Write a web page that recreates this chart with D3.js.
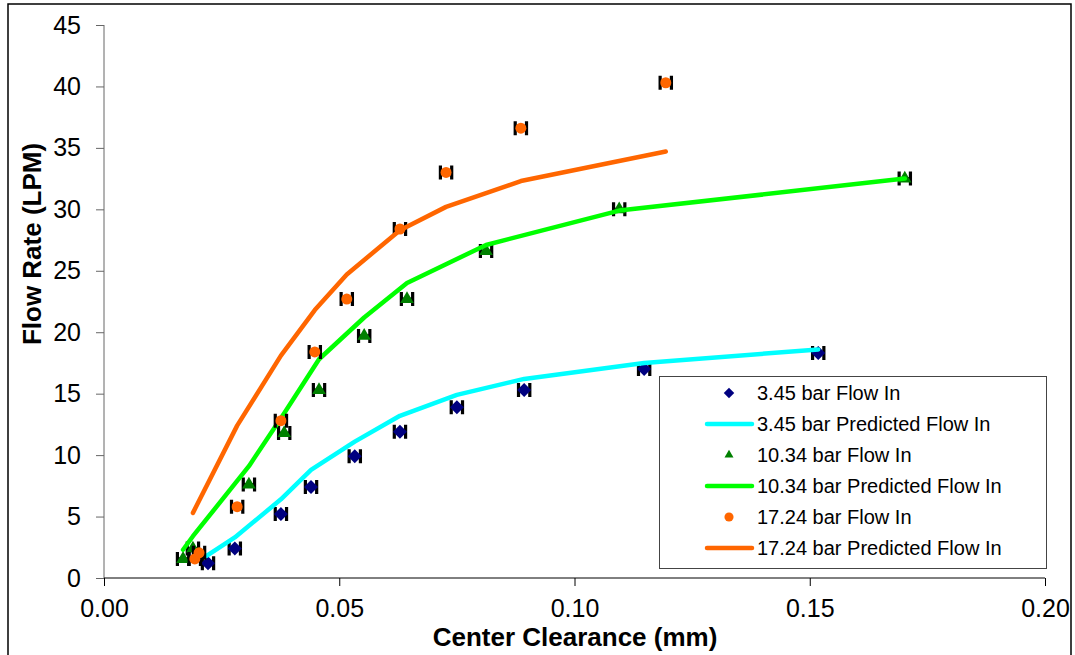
<!DOCTYPE html>
<html><head><meta charset="utf-8">
<script src="https://cdn.jsdelivr.net/npm/d3@7"></script>
<style>body{margin:0;background:#fff;} text{font-family:"Liberation Sans",Arial,sans-serif;}</style>
</head><body>
<svg id="c" width="1075" height="655"></svg>
<script>
// ---- data ----
const xTicks = [0.00, 0.05, 0.10, 0.15, 0.20];
const yTicks = [0, 5, 10, 15, 20, 25, 30, 35, 40, 45];

const obs345X = [0.0221, 0.0278, 0.0376, 0.0440, 0.0533, 0.0629, 0.0750, 0.0893, 0.1148, 0.1518];
const obs345Y = [1.2, 2.4, 5.2, 7.4, 9.9, 11.9, 13.9, 15.3, 17.0, 18.3];
const pred345X = [0.0218, 0.0278, 0.0376, 0.0440, 0.0533, 0.0629, 0.0750, 0.0893, 0.1148, 0.1518];
const pred345Y = [1.8, 3.3, 6.4, 8.8, 11.1, 13.2, 14.9, 16.2, 17.5, 18.6];

const obs1034X = [0.0168, 0.0189, 0.0308, 0.0383, 0.0457, 0.0553, 0.0644, 0.0812, 0.1095, 0.1702];
const obs1034Y = [1.55, 2.4, 7.6, 11.8, 15.3, 19.7, 22.7, 26.6, 30.0, 32.5];
const pred1034X = [0.0168, 0.0189, 0.0308, 0.0383, 0.0457, 0.0553, 0.0644, 0.0812, 0.1095, 0.1702];
const pred1034Y = [2.3, 3.4, 9.1, 13.4, 17.8, 21.2, 24.0, 27.1, 29.9, 32.5];

const obs1724X = [0.0193, 0.0202, 0.0283, 0.0376, 0.0448, 0.0516, 0.0629, 0.0727, 0.0886, 0.1194];
const obs1724Y = [1.55, 2.05, 5.8, 12.8, 18.4, 22.7, 28.4, 33.0, 36.6, 40.3];
const pred1724X = [0.0189, 0.0283, 0.0376, 0.0448, 0.0516, 0.0629, 0.0727, 0.0886, 0.1194];
const pred1724Y = [5.3, 12.4, 18.1, 21.8, 24.7, 28.3, 30.2, 32.3, 34.7];

const xErr = 0.0012;
const legendLabels = ["3.45 bar Flow In", "3.45 bar Predicted Flow In", "10.34 bar Flow In",
  "10.34 bar Predicted Flow In", "17.24 bar Flow In", "17.24 bar Predicted Flow In"];

// ---- chart ----
const svg = d3.select("#c");
const x = d3.scaleLinear().domain([0, 0.2]).range([104, 1045]);
const y = d3.scaleLinear().domain([0, 45]).range([578, 25]);

// outer frame
svg.append("path").attr("d", "M8,660 L8,4 L1071,4 L1071,660").attr("fill", "none").attr("stroke", "#000").attr("stroke-width", 1.5);

// axes
const yAxis = svg.append("g").attr("transform", "translate(104,0)")
  .call(d3.axisLeft(y).tickValues(yTicks).tickSize(8).tickPadding(15).tickFormat(d3.format("d")));
yAxis.select(".domain").attr("stroke", "#666").attr("d", "M0," + y(45) + "V" + y(0));
yAxis.selectAll(".tick line").attr("stroke", "#666");
yAxis.selectAll("text").attr("font-size", 25).attr("fill", "#000").attr("font-family", "Liberation Sans");

const xAxis = svg.append("g").attr("transform", "translate(0,578)")
  .call(d3.axisBottom(x).tickValues(xTicks).tickSize(8).tickPadding(13).tickFormat(d3.format(".2f")));
xAxis.select(".domain").attr("stroke", "#000").attr("d", "M" + x(0) + ",0H" + x(0.2));
xAxis.selectAll(".tick line").attr("stroke", "#000");
xAxis.selectAll("text").attr("font-size", 25).attr("fill", "#000").attr("font-family", "Liberation Sans");

svg.append("text").attr("x", 575).attr("y", 646).attr("text-anchor", "middle")
  .attr("font-size", 26).attr("font-weight", "bold").text("Center Clearance (mm)");
svg.append("text").attr("transform", "translate(41,244) rotate(-90)").attr("text-anchor", "middle")
  .attr("font-size", 26).attr("font-weight", "bold").text("Flow Rate (LPM)");

const line = d3.line().x(d => x(d[0])).y(d => y(d[1]));
const sym = {
  diamond: d3.symbol().type(d3.symbolDiamond2).size(125),
  triangle: d3.symbol().type(d3.symbolTriangle).size(80),
  circle: d3.symbol().type(d3.symbolCircle).size(95)
};

function drawObs(xs, ys, shape, color) {
  const pts = xs.map((v, i) => [v, ys[i]]);
  const g = svg.append("g");
  pts.forEach(p => {
    const cy = y(p[1]);
    const x1 = x(p[0] - xErr), x2 = x(p[0] + xErr);
    g.append("path").attr("d", `M${x1},${cy}H${x2}M${x1},${cy - 7}V${cy + 7}M${x2},${cy - 7}V${cy + 7}`)
      .attr("stroke", "#000").attr("stroke-width", 3.2).attr("fill", "none");
  });
  g.selectAll(".m").data(pts).join("path")
    .attr("transform", d => `translate(${x(d[0])},${y(d[1])})`)
    .attr("d", sym[shape]()).attr("fill", color);
}
function drawPred(xs, ys, color) {
  const pts = xs.map((v, i) => [v, ys[i]]);
  svg.append("path").datum(pts).attr("d", line).attr("fill", "none").attr("stroke", color)
    .attr("stroke-width", 4.5).attr("stroke-linecap", "round").attr("stroke-linejoin", "round");
}

drawObs(obs345X, obs345Y, "diamond", "#000080");
drawPred(pred345X, pred345Y, "#00FFFF");
drawObs(obs1034X, obs1034Y, "triangle", "#008000");
drawPred(pred1034X, pred1034Y, "#00FF00");
drawObs(obs1724X, obs1724Y, "circle", "#FF6600");
drawPred(pred1724X, pred1724Y, "#FF6600");

// legend
const lg = svg.append("g");
lg.append("rect").attr("x", 659.5).attr("y", 376.5).attr("width", 387).attr("height", 192)
  .attr("fill", "#fff").attr("stroke", "#444").attr("stroke-width", 1);
const legendKinds = [["diamond", "#000080"], ["line", "#00FFFF"], ["triangle", "#008000"],
  ["line", "#00FF00"], ["circle", "#FF6600"], ["line", "#FF6600"]];
const legendSym = {
  diamond: d3.symbol().type(d3.symbolDiamond2).size(70),
  triangle: d3.symbol().type(d3.symbolTriangle).size(35),
  circle: d3.symbol().type(d3.symbolCircle).size(65)
};
legendLabels.forEach((t, i) => {
  const cy = 393 + i * 31;
  const k = legendKinds[i];
  if (k[0] === "line") {
    lg.append("line").attr("x1", 707).attr("x2", 752).attr("y1", cy).attr("y2", cy)
      .attr("stroke", k[1]).attr("stroke-width", 4.5).attr("stroke-linecap", "round");
  } else {
    lg.append("path").attr("transform", `translate(729,${cy})`).attr("d", legendSym[k[0]]()).attr("fill", k[1]);
  }
  lg.append("text").attr("x", 757).attr("y", cy).attr("dy", "0.35em").attr("font-size", 20).text(t);
});
</script>
</body></html>
